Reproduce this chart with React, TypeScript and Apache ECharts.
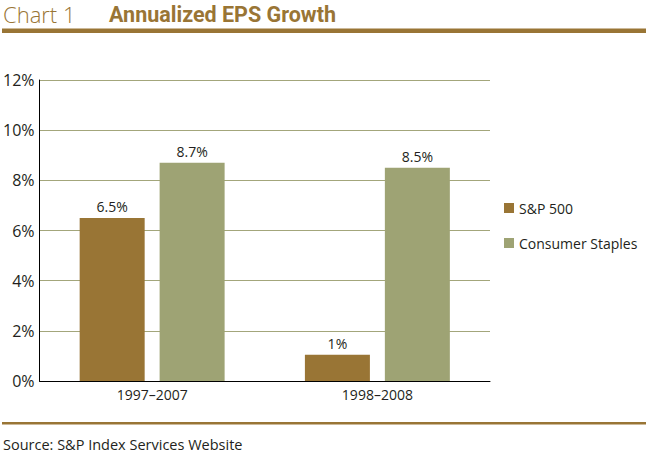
import React, { useEffect, useRef } from "react";
import * as echarts from "echarts";

const categories = ["1997–2007", "1998–2008"];
const seriesNames = ["S&P 500", "Consumer Staples"];
const spValues = [6.5, 1.05];
const csValues = [8.7, 8.5];
const spLabels = ["6.5%", "1%"];
const csLabels = ["8.7%", "8.5%"];
const yTicks = { min: 0, max: 12, interval: 2 };

const BROWN = "#997535";
const OLIVE = "#9EA374";
const GRID = "#A3A67B";
const TEXT = "#231f20";
const FONT = "'Open Sans', 'Noto Sans', sans-serif";

export default function App() {
  const ref = useRef<HTMLDivElement>(null);
  useEffect(() => {
    if (!ref.current) return;
    const chart = echarts.init(ref.current, null, { renderer: "svg" });
    chart.setOption({
      animation: false,
      backgroundColor: "#ffffff",
      textStyle: { fontFamily: FONT },
      grid: { left: 38, top: 80, width: 452, bottom: 75, containLabel: false },
      legend: {
        orient: "vertical",
        left: 499,
        top: 195,
        itemWidth: 10,
        itemHeight: 10,
        itemGap: 19,
        icon: "rect",
        data: seriesNames,
        textStyle: { fontSize: 14, lineHeight: 16, color: TEXT, fontFamily: FONT },
      },
      xAxis: {
        type: "category",
        data: categories,
        axisLine: { show: true, lineStyle: { color: "#000", width: 1 } },
        axisTick: { show: false },
        axisLabel: { fontSize: 14, color: TEXT, margin: 6, fontFamily: FONT },
      },
      yAxis: {
        type: "value",
        min: yTicks.min,
        max: yTicks.max,
        interval: yTicks.interval,
        axisLine: { show: true, lineStyle: { color: "#000", width: 1 } },
        axisTick: { show: false },
        axisLabel: { formatter: "{value}%", fontSize: 16, color: TEXT, margin: 5, fontFamily: FONT },
        splitLine: { show: true, lineStyle: { color: GRID, width: 1 } },
      },
      series: [
        {
          name: seriesNames[0],
          type: "bar",
          data: spValues,
          barWidth: 65,
          barGap: "23%",
          itemStyle: { color: BROWN },
          label: {
            show: true,
            position: "top",
            distance: 4,
            fontSize: 14,
            color: TEXT,
            fontFamily: FONT,
            formatter: (p: any) => spLabels[p.dataIndex],
          },
        },
        {
          name: seriesNames[1],
          type: "bar",
          data: csValues,
          barWidth: 65,
          itemStyle: { color: OLIVE },
          label: {
            show: true,
            position: "top",
            distance: 4,
            fontSize: 14,
            color: TEXT,
            fontFamily: FONT,
            formatter: (p: any) => csLabels[p.dataIndex],
          },
        },
      ],
      graphic: [
        {
          type: "text",
          left: 3,
          top: 3,
          style: { text: "Chart 1", fontSize: 22, fontWeight: 300, fill: BROWN, fontFamily: FONT },
        },
        {
          type: "text",
          left: 109,
          top: 3,
          style: {
            text: "Annualized EPS Growth",
            fontSize: 21.5,
            fontWeight: "bold",
            fill: BROWN,
            fontFamily: "Roboto, 'Open Sans', sans-serif",
          },
        },
        {
          type: "rect",
          shape: { x: 2, y: 28.5, width: 644, height: 4.5 },
          style: { fill: BROWN },
        },
        {
          type: "rect",
          shape: { x: 2, y: 422, width: 644, height: 2.5 },
          style: { fill: BROWN },
        },
        {
          type: "text",
          left: 3,
          top: 437,
          style: { text: "Source: S&P Index Services Website", fontSize: 14.5, fill: TEXT, fontFamily: FONT },
        },
      ],
    });
    return () => chart.dispose();
  }, []);
  return (
    <div
      ref={ref}
      style={{ position: "fixed", left: 0, top: 0, width: 657, height: 456, background: "#fff" }}
    />
  );
}
